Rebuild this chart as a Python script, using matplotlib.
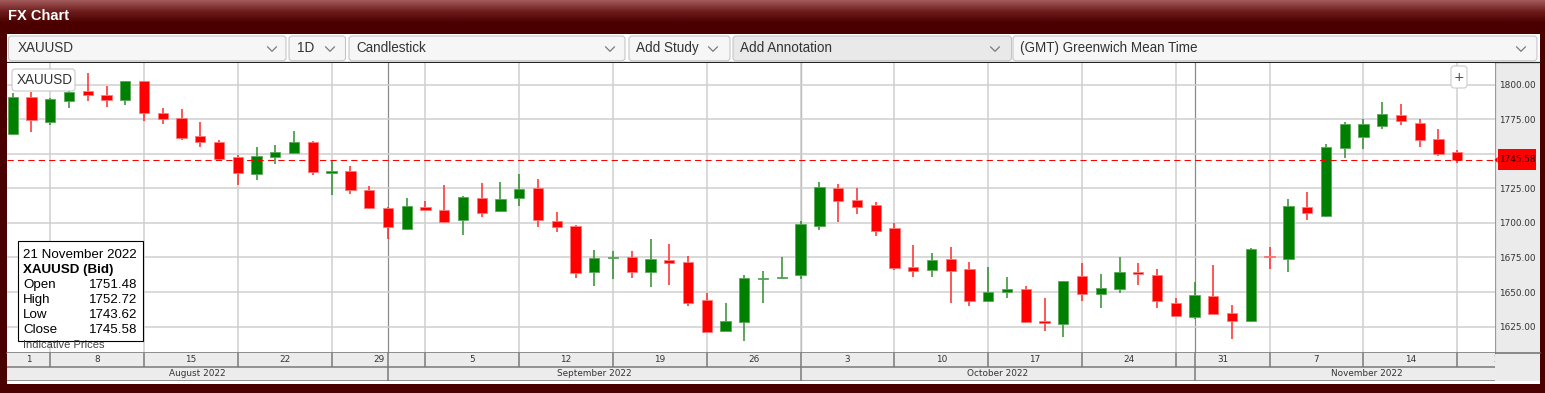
import numpy as np
import pandas as pd
import matplotlib
matplotlib.use("Agg")
import matplotlib.pyplot as plt
from matplotlib.patches import Rectangle, FancyBboxPatch, Polygon
from matplotlib.colors import LinearSegmentedColormap

# ---------------- data ----------------
symbol = "XAUUSD"
dates = pd.bdate_range("2022-08-04", "2022-11-21")

opens = [1764.6, 1790.8, 1772.8, 1788.2, 1795.2, 1792.8, 1788.9, 1802.4, 1779.7, 1775.6,
         1762.6, 1758.5, 1747.4, 1735.1, 1747.4, 1750.8, 1758.5, 1736.3, 1737.3, 1723.6,
         1710.5, 1695.8, 1711.3, 1709.6, 1701.9, 1718.0, 1708.4, 1718.3, 1725.2, 1701.6,
         1697.8, 1664.5, 1674.4, 1675.6, 1664.7, 1673.2, 1671.7, 1644.0, 1622.0, 1628.6,
         1659.2, 1659.9, 1662.1, 1697.8, 1725.2, 1716.3, 1713.2, 1696.1, 1668.1, 1666.2,
         1673.9, 1666.4, 1643.3, 1649.8, 1652.0, 1629.0, 1626.9, 1661.8, 1648.8, 1652.4,
         1664.0, 1662.6, 1642.1, 1631.7, 1646.9, 1634.6, 1628.8, 1675.6, 1674.1, 1711.3,
         1705.2, 1754.2, 1762.1, 1770.3, 1778.1, 1772.5, 1760.5, 1751.48]
highs = [1794.0, 1794.7, 1790.4, 1795.5, 1808.4, 1799.3, 1803.0, 1802.6, 1783.1, 1782.4,
         1772.8, 1759.7, 1748.9, 1754.7, 1756.1, 1766.2, 1759.5, 1745.3, 1740.9, 1726.9,
         1711.3, 1718.0, 1715.6, 1727.2, 1719.7, 1728.6, 1729.6, 1735.1, 1731.8, 1707.6,
         1698.7, 1680.6, 1679.7, 1679.7, 1688.1, 1684.7, 1675.8, 1649.3, 1642.1, 1662.6,
         1665.0, 1675.6, 1701.6, 1729.3, 1728.1, 1725.2, 1714.9, 1699.9, 1684.0, 1678.2,
         1682.3, 1671.7, 1668.3, 1661.1, 1654.1, 1645.7, 1658.0, 1671.0, 1662.8, 1675.1,
         1670.8, 1666.4, 1645.7, 1657.0, 1669.3, 1640.4, 1681.8, 1682.3, 1717.3, 1722.1,
         1756.8, 1772.8, 1775.2, 1787.5, 1786.0, 1775.2, 1767.7, 1752.72]
lows = [1763.8, 1765.5, 1771.1, 1783.4, 1787.9, 1784.1, 1785.5, 1773.5, 1771.8, 1760.2,
        1755.1, 1745.5, 1727.7, 1731.3, 1742.6, 1750.0, 1734.4, 1720.4, 1721.1, 1709.8,
        1688.6, 1695.1, 1708.4, 1699.9, 1691.2, 1704.0, 1708.1, 1712.5, 1696.8, 1693.7,
        1660.1, 1654.6, 1659.4, 1660.4, 1653.9, 1655.3, 1640.1, 1621.2, 1621.5, 1614.8,
        1641.8, 1659.7, 1659.7, 1695.1, 1700.6, 1706.7, 1690.3, 1666.2, 1660.9, 1660.9,
        1642.1, 1639.9, 1643.0, 1645.7, 1627.8, 1622.0, 1617.2, 1643.7, 1638.4, 1649.5,
        1654.8, 1638.4, 1631.7, 1630.7, 1634.0, 1616.3, 1628.5, 1666.9, 1664.2, 1702.3,
        1704.0, 1747.2, 1753.7, 1767.7, 1771.1, 1754.7, 1748.2, 1743.62]
closes = [1790.8, 1774.2, 1789.4, 1794.5, 1792.3, 1789.1, 1802.4, 1779.3, 1775.2, 1761.2,
          1758.3, 1746.5, 1736.1, 1748.2, 1751.0, 1758.5, 1736.8, 1736.8, 1723.8, 1710.8,
          1697.0, 1712.2, 1709.1, 1700.9, 1718.7, 1707.4, 1717.0, 1724.5, 1701.9, 1697.0,
          1663.5, 1674.6, 1675.1, 1664.7, 1673.9, 1671.0, 1642.3, 1621.3, 1629.0, 1660.1,
          1659.7, 1660.6, 1699.2, 1726.0, 1715.8, 1711.7, 1694.4, 1667.4, 1665.4, 1673.2,
          1665.4, 1643.3, 1650.3, 1652.0, 1628.3, 1627.8, 1657.7, 1648.8, 1652.9, 1664.2,
          1663.3, 1643.3, 1632.7, 1647.8, 1634.3, 1628.8, 1681.1, 1675.1, 1712.2, 1706.9,
          1755.1, 1771.5, 1771.5, 1778.8, 1773.7, 1759.7, 1749.8, 1745.58]
price_ticks = [1625, 1650, 1675, 1700, 1725, 1750, 1775, 1800]
toolbar_labels = ["XAUUSD", "1D", "Candlestick", "Add Study", "Add Annotation",
                  "(GMT) Greenwich Mean Time"]

# ---------------- figure ----------------
W, H = 1545, 393
fig = plt.figure(figsize=(W / 100, H / 100), dpi=100)
fig.patch.set_facecolor("#4b0000")
UI = ["Liberation Sans", "DejaVu Sans"]
AX = ["DejaVu Sans"]


def fa(x0, y0, x1, y1):
    return [x0 / W, 1 - y1 / H, (x1 - x0) / W, (y1 - y0) / H]


def pix_axes(z):
    a = fig.add_axes([0, 0, 1, 1], zorder=z)
    a.set_xlim(0, W)
    a.set_ylim(H, 0)
    a.axis("off")
    a.patch.set_alpha(0)
    return a


bg = pix_axes(0)
# title gradient
yy = np.linspace(0, 1, 60)[:, None]
cmap = LinearSegmentedColormap.from_list("t", ["#a35a5a", "#6e1c1c", "#4b0000", "#4b0000"])
bg.imshow(yy, cmap=cmap, extent=(0, W, 34, 0), aspect="auto", zorder=0)
bg.text(8, 20.5, "FX Chart", color="white", fontsize=10.5, fontweight="bold",
        family=UI, va="baseline", zorder=2)
# white panel
bg.add_patch(Rectangle((7, 33.5), 1533, 350.5, fc="white", ec="none", zorder=1))

# toolbar boxes
box_geo = [(8.5, 286, 17.3, 272), (289, 345.5, 297, 330), (349, 625, 356.5, 610),
           (629, 730, 636.5, 713), (733, 1011.5, 740.5, 995), (1013, 1537, 1020, 1521)]
for lab, (x0, x1, tx, cx) in zip(toolbar_labels, box_geo):
    fc = "#e9e9e9" if lab == "Add Annotation" else "#f6f6f6"
    bg.add_patch(FancyBboxPatch((x0, 36), x1 - x0, 24.7,
                                boxstyle="round,pad=0,rounding_size=3",
                                fc=fc, ec="#c6c6c6", lw=0.8, zorder=2))
    bg.text(tx, 51.7, lab, fontsize=9.75, family=UI, color="#333333",
            va="baseline", zorder=3)
    bg.plot([cx - 4.5, cx, cx + 4.5], [46.8, 51.3, 46.8], color="#7a7a7a",
            lw=0.9, zorder=3, solid_capstyle="round")

# right price panel
bg.add_patch(Rectangle((1495, 62.5), 45, 318.5, fc="#ebebeb", ec="none", zorder=2))
bg.plot([1494.6, 1494.6], [62.5, 352.7], color="#9a9a9a", lw=0.9, zorder=3)
bg.plot([7, 1540], [62.3, 62.3], color="#222222", lw=0.9, zorder=4)

# ---------------- main chart ----------------
px_per_day = 18.76
x0_px = 12.7
xl = ((7 - x0_px) / px_per_day, (1495 - x0_px) / px_per_day)
x_ext = (1540 - x0_px) / px_per_day
ppu = 1.3823


def price_at(y):
    return 1800 - (y - 84.7) / ppu


ax = fig.add_axes(fa(7, 62.8, 1495, 352.7), zorder=1)
ax.set_facecolor("white")
ax.set_xlim(*xl)
ax.set_ylim(price_at(352.7), price_at(62.8))
for s in ax.spines.values():
    s.set_visible(False)

idx = np.arange(len(dates))
o = np.array(opens); h = np.array(highs); l = np.array(lows); c = np.array(closes)
up = c >= o
mondays = [i for i, d in enumerate(dates) if d.weekday() == 0]
month_starts = [i for i in range(1, len(dates)) if dates[i].month != dates[i - 1].month]
last_px = c[-1]

ax.set_xticks(mondays)
ax.set_yticks(price_ticks)
ax.grid(True, color="#cfcfcf", lw=1.1, zorder=0)
ax.set_axisbelow(True)
ax.tick_params(axis="x", length=0, labelbottom=False)
ax.yaxis.tick_right()
ax.tick_params(axis="y", length=0, pad=3.0, labelsize=6.4, labelcolor="#333333")
# the tick label hidden behind the current-price marker is not shown
ax.set_yticklabels([("" if abs(v - last_px) < 8 else f"{v:.2f}") for v in price_ticks],
                   family=AX)
for m in month_starts:
    ax.axvline(m, color="#8a8a8a", lw=0.9, zorder=0.5)

body_col = np.where(up, "#008000", "#ff0000")
edge_col = np.where(up, "#5aa85a", "#ff7a7a")
wick_col = np.where(up, "#2f8f2f", "#ff2a2a")
ax.vlines(idx, l, h, colors=wick_col, lw=1.1, zorder=2)
bot = np.minimum(o, c)
hgt = np.maximum(np.abs(c - o), 1.2)
ax.bar(idx, hgt, bottom=bot, width=0.55, color=body_col, edgecolor=edge_col,
       lw=0.6, zorder=3)
ax.axhline(last_px, color="#ff0000", lw=0.75, dashes=(6, 4), zorder=4)

# ---------------- overlay UI ----------------
ov = pix_axes(2)
ov.add_patch(FancyBboxPatch((12, 69), 63, 22, boxstyle="round,pad=0,rounding_size=3",
                            fc="white", ec="#c8c8c8", lw=0.8))
ov.text(16.3, 84.3, symbol, fontsize=9.75, family=UI, color="#333333", va="baseline")
ov.add_patch(FancyBboxPatch((1451, 66), 16, 22, boxstyle="round,pad=0,rounding_size=3",
                            fc="white", ec="#cccccc", lw=0.8))
ov.text(1459, 77.5, "+", fontsize=9, family=AX, color="#444444", ha="center", va="center")

# tooltip
ov.add_patch(Rectangle((18.3, 241), 125, 100, fc="white", ec="black", lw=0.8))
last = len(dates) - 1
ov.text(23.3, 258.3, dates[last].strftime("%-d %B %Y"), fontsize=9.6, family=UI,
        color="black", va="baseline")
ov.text(23.3, 273.3, f"{symbol} (Bid)", fontsize=9.6, family=UI, fontweight="bold",
        color="black", va="baseline")
rows = [("Open", o[last]), ("High", h[last]), ("Low", l[last]), ("Close", c[last])]
for k, (nm, v) in enumerate(rows):
    yb = 288.3 + 15 * k
    ov.text(23.3, yb, nm, fontsize=9.6, family=UI, color="black", va="baseline")
    ov.text(137.6, yb, f"{v:.2f}", fontsize=9.6, family=UI, color="black",
            va="baseline", ha="right")
t_ind = ov.text(23.3, 347.6, "Indicative Prices", fontsize=8, family=UI,
                color="#444444", va="baseline")
clip = Rectangle((0, 0), W, 349.2, transform=ov.transData)
t_ind.set_clip_path(clip)

# current price label
yp = 84.7 + (1800 - last_px) * ppu
ov.add_patch(Rectangle((1497.5, yp - 10.5), 38.5, 21, fc="#ff0000", ec="none"))
ov.add_patch(Polygon([[1494.5, yp], [1497.6, yp - 3], [1497.6, yp + 3]], closed=True,
                     fc="#ff0000", ec="none"))
ov.text(1499, yp, f"{last_px:.2f}", fontsize=6.4, family=AX, color="#2a0000",
        va="center", ha="left")
ov.plot([7, 1540], [352.7, 352.7], color="#6e6e6e", lw=1.1)

# ---------------- date axis ----------------
axd = fig.add_axes(fa(7, 352.7, 1495, 380.7), zorder=3)
axd.set_facecolor("#ececec")
axd.set_xlim(*xl)
axd.set_ylim(0, 2)
axd.set_xticks([]); axd.set_yticks([])
for s in axd.spines.values():
    s.set_visible(False)
axd.axhline(1, color="#7a7a7a", lw=1.1)
axd.axhline(0, color="#7a7a7a", lw=1.1)
axd.vlines(sorted(set(mondays + month_starts)), 1, 2, colors="#7a7a7a", lw=1.1)
axd.vlines(month_starts, 0, 1, colors="#7a7a7a", lw=1.1)

# week labels (Monday day numbers)
first_monday = dates[0] - pd.Timedelta(days=dates[0].weekday())
week_starts = [(first_monday, mondays[0] - 5)] + [(dates[i], i) for i in mondays]
for d, i in week_starts:
    a, b = max(i, xl[0]), min(i + 5, x_ext)
    axd.text((a + b) / 2, 1.5, str(d.day), fontsize=6.4, family=AX, color="#333333",
             ha="center", va="center", clip_on=True)
# month labels
m_bounds = [xl[0]] + month_starts + [x_ext]
m_names = [dates[0].strftime("%B %Y")] + [dates[i].strftime("%B %Y") for i in month_starts]
for k, nm in enumerate(m_names):
    a, b = max(m_bounds[k], xl[0]), min(m_bounds[k + 1], x_ext)
    axd.text((a + b) / 2, 0.5, nm, fontsize=6.4, family=AX, color="#333333",
             ha="center", va="center", clip_on=True)

fig.savefig("out.png", dpi=100, facecolor=fig.get_facecolor())
